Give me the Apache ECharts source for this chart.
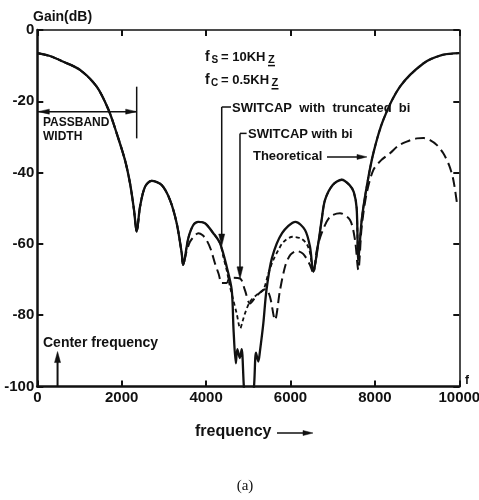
<!DOCTYPE html>
<html><head><meta charset="utf-8">
<script src="https://cdn.jsdelivr.net/npm/echarts@6.0.0/dist/echarts.min.js"></script>
<style>html,body{margin:0;padding:0;background:#fff}#c{width:479px;height:500px}</style>
</head><body><div id="c"></div>
<script>
// ---- data ----
const xTicks = [0, 2000, 4000, 6000, 8000, 10000];
const yTicks = [0, -20, -40, -60, -80, -100];

// Theoretical (solid)
const thF = [0, 300, 617, 1012, 1408, 1685, 1882, 2078, 2197, 2292, 2355, 2434, 2552, 2711, 2948, 3145, 3303, 3422, 3455, 3578, 3697, 3815, 3974, 4171, 4329, 4488, 4607, 4650, 4705, 4740, 4800, 4843, 4895, 5000, 5135, 5182, 5238, 5277, 5356, 5430, 5560, 5800, 6120, 6344, 6462, 6540, 6659, 6738, 6817, 7000, 7213, 7400, 7500, 7568, 7607, 7687, 7805, 7962, 8199, 8594, 9147, 9600, 10000];
const thG = [-6.5, -7.3, -8.9, -11.2, -15.9, -22.3, -29, -36.5, -43, -50.5, -56.6, -49.6, -44, -42.3, -43.5, -47.7, -54.2, -62.6, -65.9, -58.4, -54.7, -53.8, -54.2, -57, -59.8, -66.4, -72.9, -84, -93.5, -89.5, -92, -89.5, -100, -115, -100, -90.5, -93, -90, -82.3, -73, -64, -57, -53.8, -56.1, -60.8, -67.8, -59.8, -53.3, -47.7, -43.5, -42, -43.5, -45.5, -50, -64.5, -53.3, -44, -34.6, -25.2, -15.9, -9.4, -7, -6.5];

// SWITCAP with bi (long dash) - part differing from theoretical (f > 3455)
const biF = [3540, 3618, 3720, 3815, 3920, 4014, 4110, 4211, 4300, 4369, 4488, 4560, 4803, 4920, 5040, 5200, 5356, 5420, 5514, 5633, 5751, 5880, 6000, 6146, 6300, 6462, 6540, 6620, 6738, 6936, 7173, 7410, 7528, 7607, 7687, 7805, 7962, 8150, 8357, 8550, 8754, 8991, 9150, 9306, 9470, 9621, 9760, 9858, 9950];
const biG = [-62, -59.4, -57.8, -57, -57.6, -59, -61.5, -65.5, -68.5, -71, -71, -69.5, -69.7, -73, -76.7, -74.5, -72.9, -72.7, -74.8, -81.3, -73, -66, -63, -62, -62.8, -65.9, -68.2, -62, -57, -52.4, -51.4, -53.3, -58.9, -67.3, -55.2, -45.8, -39.3, -36.5, -34.6, -32.5, -31.3, -30.4, -30.3, -30.9, -32.3, -34.6, -38, -42, -49];

// SWITCAP with truncated bi (short dash) - part differing from theoretical
const trF = [4408, 4490, 4566, 4650, 4724, 4810, 4870, 4922, 5040, 5198, 5356, 5470, 5593, 5710, 5830, 6050, 6250, 6383, 6462];
const trG = [-63.6, -67.5, -72, -76, -79.5, -83.7, -81.5, -79.5, -76.2, -74.3, -72.9, -68.5, -64.5, -61.8, -59.5, -58, -58.5, -60, -62.5];

// ---- build series ----
const pairs = (fs, gs) => fs.map((f, i) => [f, gs[i]]);
const theo = pairs(thF, thG);
const withBi = theo.filter(p => p[0] <= 3455).concat(pairs(biF, biG));
const trunc = theo.filter(p => p[0] <= 4329).concat(pairs(trF, trG), theo.filter(p => p[0] >= 6540));

const INK = '#111';
const FONT = '"Liberation Sans", Arial, sans-serif';
const chart = echarts.init(document.getElementById('c'), null, {renderer: 'canvas'});

const axisCommonX = {type: 'value', min: 0, max: 10000, interval: 2000, splitLine: {show: false}};
const axisCommonY = {type: 'value', min: -100, max: 0, interval: 20, splitLine: {show: false}};

chart.setOption({
  animation: false,
  backgroundColor: '#fff',
  grid: {left: 37.3, right: 19.7, top: 30, bottom: 113.5, containLabel: false, outerBoundsMode: 'none'},
  xAxis: [
    Object.assign({}, axisCommonX, {
      position: 'bottom',
      axisLine: {onZero: false, lineStyle: {color: INK, width: 2.5}},
      axisTick: {inside: true, length: 6, lineStyle: {color: INK, width: 2}},
      axisLabel: {show: true, showMinLabel: true, showMaxLabel: true, hideOverlap: false, fontSize: 15, fontWeight: 'bold', fontFamily: FONT, color: INK, margin: 4,
        formatter: v => xTicks.indexOf(v) >= 0 ? String(v) : ''}
    }),
    Object.assign({}, axisCommonX, {
      position: 'top',
      axisLine: {onZero: false, lineStyle: {color: INK, width: 1.5}},
      axisTick: {inside: true, length: 6, lineStyle: {color: INK, width: 2}},
      axisLabel: {show: false}
    })
  ],
  yAxis: [
    Object.assign({}, axisCommonY, {
      position: 'left',
      axisLine: {onZero: false, lineStyle: {color: INK, width: 2.5}},
      axisTick: {inside: true, length: 6, lineStyle: {color: INK, width: 2}},
      axisLabel: {show: true, showMinLabel: true, showMaxLabel: true, hideOverlap: false, fontSize: 15, fontWeight: 'bold', fontFamily: FONT, color: INK, margin: 3,
        formatter: v => yTicks.indexOf(v) >= 0 ? String(v) : ''}
    }),
    Object.assign({}, axisCommonY, {
      position: 'right',
      axisLine: {onZero: false, lineStyle: {color: INK, width: 1.5}},
      axisTick: {inside: true, length: 6, lineStyle: {color: INK, width: 2}},
      axisLabel: {show: false}
    })
  ],
  series: [
    {name: 'Theoretical', type: 'line', data: theo, showSymbol: false, symbol: 'none', clip: true,
      smooth: 0.3,
      lineStyle: {color: INK, width: 2.3, type: 'solid'}, z: 3},
    {name: 'SWITCAP with bi', type: 'line', data: withBi, showSymbol: false, symbol: 'none', clip: true,
      smooth: 0.3,
      lineStyle: {color: INK, width: 2, type: [10, 5]}, z: 2},
    {name: 'SWITCAP with truncated bi', type: 'line', data: trunc, showSymbol: false, symbol: 'none', clip: true,
      smooth: 0.3,
      lineStyle: {color: INK, width: 1.8, type: [4, 3]}, z: 2}
  ]
});

// ---- annotations (anchored to data coordinates) ----
const P = (f, g) => chart.convertToPixel({gridIndex: 0}, [f, g]);
function head(tip, dir, len, hw) {
  const [dx, dy] = dir;
  const bx = tip[0] - dx * len, by = tip[1] - dy * len;
  const nx = -dy, ny = dx;
  return {type: 'polygon', z: 100, shape: {points: [tip, [bx + nx * hw, by + ny * hw], [bx - nx * hw, by - ny * hw]]}, style: {fill: INK, stroke: INK, lineWidth: 0.5}};
}
function seg(a, b, w) {
  return {type: 'line', z: 100, shape: {x1: a[0], y1: a[1], x2: b[0], y2: b[1]}, style: {stroke: INK, lineWidth: w || 1.5}};
}
function txt(x, y, s, font, align) {
  return {type: 'text', z: 100, x: x, y: y, style: {text: s, font: font, fill: INK, align: align || 'left', verticalAlign: 'middle'}};
}
const g = [];
const B13 = 'bold 13px ' + FONT;

// Y axis name
g.push(txt(33, 17, 'Gain(dB)', 'bold 14px ' + FONT));
// f at end of x axis
g.push(txt(467, 381, 'f', 'bold 12px ' + FONT, 'center'));

// passband width
const pbY = -22.9;
const pbL = P(0, pbY), pbR = P(2355, pbY);
g.push(seg(pbL, pbR, 1.5));
g.push(head([pbL[0] + 1, pbL[1]], [-1, 0], 11, 2.5));
g.push(head(pbR, [1, 0], 11, 2.5));
g.push(seg(P(2355, -15.9), P(2355, -30.4), 1.5));
const pbT = P(135, -26.1);
g.push(txt(pbT[0], pbT[1], 'PASSBAND', 'bold 12px ' + FONT));
g.push(txt(pbT[0], pbT[1] + 14, 'WIDTH', 'bold 12px ' + FONT));

// fs, fc
const fsP = P(3974, -7.6);
g.push(txt(fsP[0], fsP[1], 'f', 'bold 14px ' + FONT));
g.push(txt(fsP[0] + 6.5, fsP[1] + 3, 'S', 'bold 10px ' + FONT));
g.push(txt(fsP[0] + 16, fsP[1], '= 10KH', B13));
g.push(txt(fsP[0] + 63, fsP[1] + 2.5, 'Z', 'bold 11px ' + FONT));
g.push(seg([fsP[0] + 63, fsP[1] + 8.5], [fsP[0] + 70, fsP[1] + 8.5], 1.5));
const fcP = P(3974, -14.1);
g.push(txt(fcP[0], fcP[1], 'f', 'bold 14px ' + FONT));
g.push(txt(fcP[0] + 6, fcP[1] + 3, 'C', 'bold 10px ' + FONT));
g.push(txt(fcP[0] + 16, fcP[1], '= 0.5KH', B13));
g.push(txt(fcP[0] + 66.5, fcP[1] + 2.5, 'Z', 'bold 11px ' + FONT));
g.push(seg([fcP[0] + 66.5, fcP[1] + 8.5], [fcP[0] + 73.5, fcP[1] + 8.5], 1.5));

// SWITCAP with truncated bi
const t1 = P(4370, -21.6), t1tip = P(4370, -60.6);
g.push(seg(t1, [t1tip[0], t1tip[1] - 8], 1.5));
g.push(seg(t1, P(4590, -21.6), 1.5));
g.push(head(t1tip, [0, 1], 12, 3));
const t1t = P(4614, -21.9);
g.push(txt(t1t[0], t1t[1], 'SWITCAP  with  truncated  bi', B13));

// SWITCAP with bi
const t2 = P(4803, -29), t2tip = P(4803, -69.8);
g.push(seg(t2, [t2tip[0], t2tip[1] - 8], 1.5));
g.push(seg(t2, P(4960, -29), 1.5));
g.push(head(t2tip, [0, 1], 12, 3));
const t2t = P(4993, -29.4);
g.push(txt(t2t[0], t2t[1], 'SWITCAP with bi', B13));

// Theoretical
const t3t = P(5111, -35.6);
g.push(txt(t3t[0], t3t[1], 'Theoretical', B13));
const a3s = P(6865, -35.6), a3e = P(7813, -35.6);
g.push(seg(a3s, [a3e[0] - 8, a3e[1]], 1.5));
g.push(head(a3e, [1, 0], 10, 2.5));

// Center frequency
const cfT = P(135, -87.8);
g.push(txt(cfT[0], cfT[1], 'Center frequency', 'bold 14px ' + FONT));
const cfB = P(480, -100), cfTip = P(480, -90.2);
g.push(seg(cfB, [cfTip[0], cfTip[1] + 8], 2));
g.push(head(cfTip, [0, -1], 11, 3));

// x axis title
g.push(txt(195, 432, 'frequency', 'bold 16px ' + FONT));
g.push(seg([277, 433], [304, 433], 1.5));
g.push(head([313, 433], [1, 0], 10, 2.5));

// caption
g.push(txt(245, 486, '(a)', '15px "Liberation Serif", serif', 'center'));

chart.setOption({graphic: {elements: g}});
</script>
</body></html>
